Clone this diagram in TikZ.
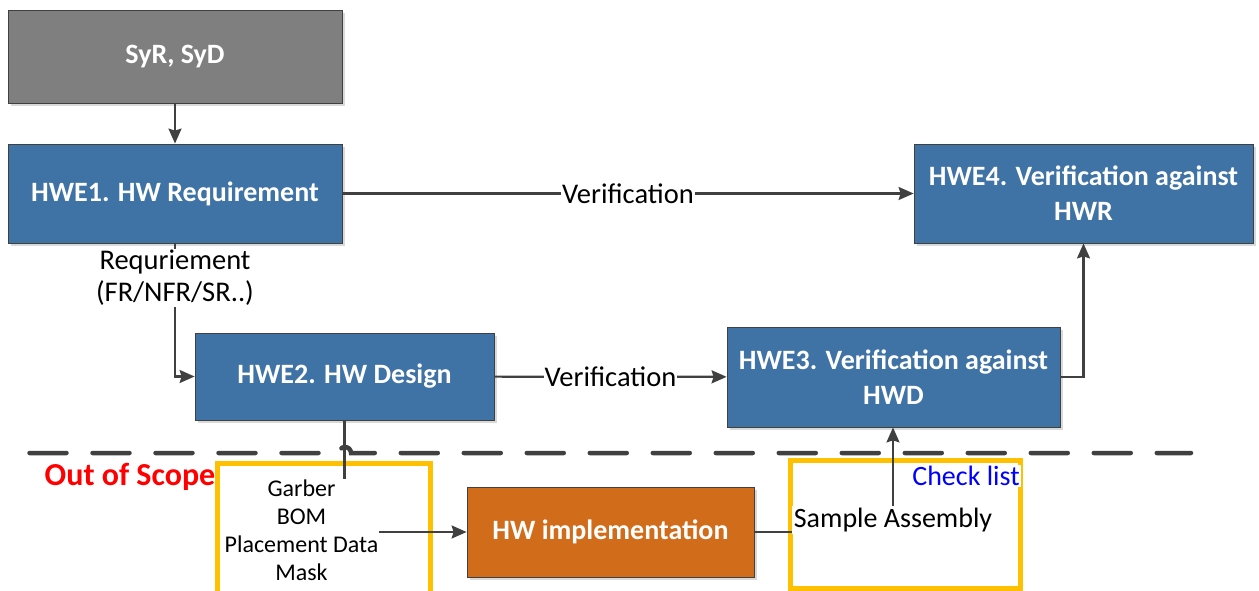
\documentclass[tikz,border=0pt]{standalone}
\usepackage{fontspec}
\setmainfont{Carlito}
\usetikzlibrary{arrows.meta,shadows}
\definecolor{procblue}{HTML}{3F72A5}
\definecolor{sysgray}{HTML}{7F7F7F}
\definecolor{implorange}{HTML}{D16C1B}
\definecolor{edgegray}{HTML}{404040}
\definecolor{scopeyellow}{HTML}{FFC000}
\tikzset{
  box/.style={draw=edgegray, line width=0.8pt, text=white, align=center,
    font=\fontsize{28}{35}\selectfont\bfseries, inner sep=0pt,
    drop shadow={shadow xshift=3pt, shadow yshift=-3pt, fill=black!15, opacity=1}},
  arr/.style={draw=edgegray, line width=2.2pt, -{Stealth[length=15pt,width=13pt,inset=2pt]}},
  link/.style={draw=edgegray, line width=2.2pt},
  lbl/.style={fill=white, text=black, inner sep=1pt, align=center,
    font=\fontsize{28.5}{32}\selectfont},
  scope/.style={draw=scopeyellow, line width=5pt},
}
\begin{document}
\begin{tikzpicture}[x=1pt, y=-1pt]
\useasboundingbox (0,0) rectangle (1259,590);

% process boxes
\node[box, fill=sysgray, minimum width=334pt, minimum height=93pt] (syr) at (175,56.5) {SyR, SyD};
\node[box, fill=procblue, minimum width=334pt, minimum height=99pt] (hwe1) at (175,193.5) {HWE1. HW Requirement};
\node[box, fill=procblue, minimum width=339pt, minimum height=99pt] (hwe4) at (1083.5,193.5) {HWE4. Verification against\\HWR};
\node[box, fill=procblue, minimum width=299pt, minimum height=87pt] (hwe2) at (344.5,376.5) {HWE2. HW Design};
\node[box, fill=procblue, minimum width=333pt, minimum height=100pt] (hwe3) at (893.5,377) {HWE3. Verification against\\HWD};
\node[box, fill=implorange, minimum width=287pt, minimum height=90pt] (impl) at (610.5,532) {HW implementation};

% out-of-scope frames
\draw[scope] (217,463) rectangle (430,600);
\draw[scope] (790,460) rectangle (1020,588);

% scope boundary, jumping over the design output line
\draw[edgegray, line width=4.5pt, line cap=round, dash pattern=on 37pt off 26pt]
  (29.5,453) -- (339,453) arc[start angle=180, end angle=0, radius=6pt] -- (1191,453);
\node[text=red, font=\fontsize{32}{36}\selectfont\bfseries, inner sep=0pt] (oos) at (130,477) {Out of Scope};

% out-of-scope contents
\node[align=center, inner sep=0pt, font=\fontsize{24}{28}\selectfont] (garb) at (301.5,530)
  {Garber\\BOM\\Placement Data\\Mask};
\node[lbl, font=\fontsize{28}{32}\selectfont, inner sep=2pt] (sample) at (893,520) {Sample Assembly};
\node[lbl, text=blue, font=\fontsize{28}{32}\selectfont, inner sep=1pt] (check) at (966,476) {Check list};

% connectors
\draw[arr] (syr) -- (hwe1);
\draw[arr] (hwe1.south) |- node[lbl, pos=0.13] (req) {Requriement\\(FR/NFR/SR..)} (hwe2.west);
\draw[arr] (hwe1) -- node[lbl] (ver1) {Verification} (hwe4);
\draw[arr] (hwe2) -- node[lbl] (ver2) {Verification} (hwe3);
\draw[arr] (hwe3.east) -| (hwe4.south);
\draw[link] (hwe2.south) -- (hwe2.south |- garb.north);
\draw[arr] (garb.east |- impl.west) -- (impl.west);
\draw[link] (impl.east) -- (impl.east -| sample.west);
\draw[arr] (sample.north) -- (sample.north |- hwe3.south);
\end{tikzpicture}
\end{document}
